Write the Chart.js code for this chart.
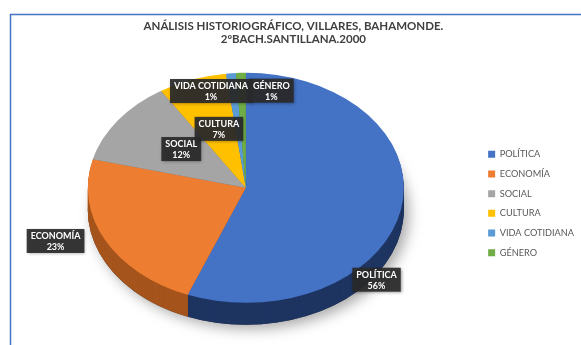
<!DOCTYPE html>
<html>
<head>
<meta charset="utf-8">
<script src="https://cdn.jsdelivr.net/npm/chart.js@4"></script>
<style>
  body { margin: 0; background: #fff; }
  canvas { display: block; }
</style>
</head>
<body>
<canvas id="pieChart" width="581" height="345"></canvas>
<script>
// values (percent of total)
var categories = ['POLÍTICA', 'ECONOMÍA', 'SOCIAL', 'CULTURA', 'VIDA COTIDIANA', 'GÉNERO'];
var values = [56, 23, 12, 7, 1, 1];
var titleLines = ['ANÁLISIS HISTORIOGRÁFICO, VILLARES, BAHAMONDE.', '2ºBACH.SANTILLANA.2000'];

// office-ish palette, top faces and (darker) sides
var topColours = ['#4472c4', '#ed7d31', '#a5a5a5', '#ffc000', '#5b9bd5', '#70ad47'];
var sideColours = ['#1e3461', '#a5541c', '#6e6e6e', '#b38600', '#3a6c98', '#4b7a2e'];

// where Excel put the callouts: angle from 12 o'clock (deg) and radius factor
var calloutAngle = [134, 249, 309.5, 341.6, 345.3, 10.8];
var calloutDist = [1.15, 1.29, 0.53, 0.54, 0.87, 0.86];

var squash = 0.728;   // vertical flattening of the disc
var depth = 22;       // thickness of the side in px

var total = values.reduce(function(a, b) { return a + b; }, 0);

// the blue frame round the chart
var framePlugin = {
    id: 'frame',
    beforeDraw: function(chart) {
        var ctx = chart.ctx;
        ctx.save();
        ctx.strokeStyle = '#4472c4';
        ctx.lineWidth = 1.5;
        ctx.beginPath();
        ctx.moveTo(10.5, 400);
        ctx.lineTo(10.5, 14.5);
        ctx.lineTo(600, 14.5);
        ctx.stroke();
        ctx.restore();
    }
};

// fake the 3D look: squash the disc and paint the side underneath
var tiltPlugin = {
    id: 'tilt',
    beforeDatasetsDraw: function(chart) {
        var ctx = chart.ctx;
        var arcs = chart.getDatasetMeta(0).data;
        var cx = arcs[0].x, cy = arcs[0].y, r = arcs[0].outerRadius;
        ctx.save();
        ctx.translate(0, cy);
        ctx.scale(1, squash);
        ctx.translate(0, -cy);

        // soft shadow under the whole thing
        ctx.save();
        ctx.shadowColor = 'rgba(0,0,0,0.35)';
        ctx.shadowBlur = 14;
        ctx.shadowOffsetX = 5;
        ctx.shadowOffsetY = 4;
        ctx.beginPath();
        ctx.arc(cx, cy + depth / squash, r, 0, Math.PI * 2);
        ctx.fillStyle = '#333';
        ctx.fill();
        ctx.restore();

        for (var d = depth; d >= 1; d--) {
            var oy = cy + d / squash;
            arcs.forEach(function(a, i) {
                ctx.beginPath();
                ctx.moveTo(cx, oy);
                ctx.arc(cx, oy, r, a.startAngle, a.endAngle);
                ctx.closePath();
                ctx.fillStyle = sideColours[i];
                ctx.fill();
            });
        }
    },
    afterDatasetsDraw: function(chart) {
        var ctx = chart.ctx;
        ctx.restore();

        var arcs = chart.getDatasetMeta(0).data;
        var cx = arcs[0].x, cy = arcs[0].y, r = arcs[0].outerRadius;
        ctx.save();
        ctx.font = 'bold 9px Lato';
        ctx.textAlign = 'center';
        ctx.textBaseline = 'middle';
        categories.forEach(function(name, i) {
            var ang = calloutAngle[i] * Math.PI / 180;
            var x = cx + Math.sin(ang) * r * calloutDist[i];
            var y = cy - Math.cos(ang) * r * calloutDist[i] * squash;
            var pct = Math.round(values[i] / total * 100) + '%';
            var w = Math.max(ctx.measureText(name).width, ctx.measureText(pct).width) + 8;
            var h = 24;
            ctx.save();
            ctx.shadowColor = 'rgba(0,0,0,0.4)';
            ctx.shadowBlur = 3;
            ctx.shadowOffsetX = 1;
            ctx.shadowOffsetY = 1;
            ctx.fillStyle = 'rgba(42,42,42,0.92)';
            ctx.fillRect(x - w / 2, y - h / 2, w, h);
            ctx.restore();
            ctx.fillStyle = '#ffffff';
            ctx.fillText(name, x, y - 5);
            ctx.fillText(pct, x, y + 6);
        });
        ctx.restore();
    }
};

// trailing blanks nudge the centred title a little to the left, like the original
var pad = '\u00a0\u00a0\u00a0\u00a0';

var ctx = document.getElementById('pieChart').getContext('2d');
var myChart = new Chart(ctx, {
    type: 'pie',
    data: {
        labels: categories,
        datasets: [{
            data: values,
            backgroundColor: topColours,
            borderWidth: 0,
            radius: 158,
            clip: false
        }]
    },
    options: {
        responsive: false,
        devicePixelRatio: 1,
        animation: false,
        layout: { padding: { left: 14, right: -3, top: 0, bottom: 26 } },
        plugins: {
            tooltip: { enabled: false },
            title: {
                display: true,
                text: titleLines.map(function(t) { return t + pad; }),
                color: '#404040',
                font: { family: 'Lato', size: 11.5, weight: 'bold' },
                padding: { top: 19, bottom: 10 }
            },
            legend: {
                position: 'right',
                title: { display: true, text: '', font: { size: 10 }, padding: { top: 76, bottom: 0 } },
                labels: {
                    boxWidth: 7,
                    boxHeight: 7,
                    padding: 10.5,
                    color: '#595959',
                    font: { family: 'Lato', size: 9.2 }
                }
            }
        }
    },
    plugins: [framePlugin, tiltPlugin]
});
</script>
</body>
</html>
